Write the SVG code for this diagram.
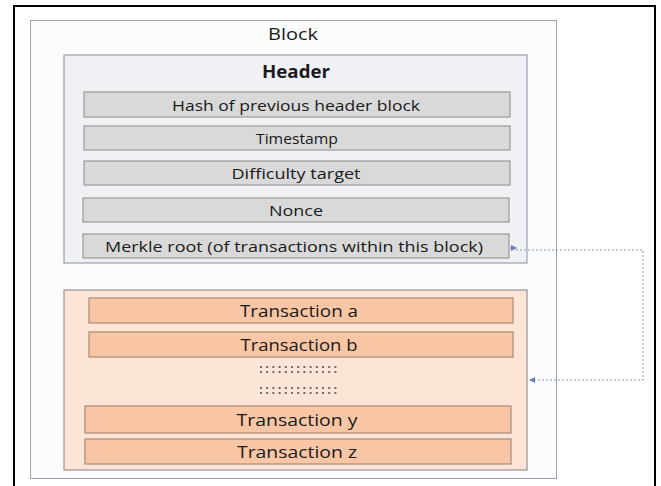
<svg xmlns="http://www.w3.org/2000/svg" width="661" height="486" viewBox="0 0 661 486">
<defs>
<style>
text{font-family:"Open Sans","Liberation Sans",sans-serif;fill:#1a1a1a;text-anchor:middle;dominant-baseline:central;font-weight:400}
text.hd{font-weight:700}
.hrow{fill:#d9d9d9;stroke:#9a9a9a;stroke-width:1.2}
.trow{fill:#f8c6a4;stroke:#a98a78;stroke-width:1.2}
.lbl{font-size:14.5px}
.tlbl{font-size:16.5px}
.dots{stroke:#444;stroke-width:1.6;stroke-dasharray:2 4.2}
</style>
<marker id="ah" viewBox="0 0 6 6" refX="5" refY="3" markerWidth="6" markerHeight="6" orient="auto" markerUnits="userSpaceOnUse">
<path d="M0,0 L6,3 L0,6 z" fill="#6f7fb8"/>
</marker>
</defs>
<rect x="0" y="0" width="661" height="486" fill="#ffffff"/>
<rect x="14" y="6" width="641" height="485" fill="none" stroke="#000" stroke-width="2"/>
<g id="block">
<rect x="30.5" y="20.5" width="526" height="458" fill="#fbfcfe" stroke="#9ba3b0" stroke-width="1"/>
<text x="293" y="34" font-size="16" textLength="50" lengthAdjust="spacingAndGlyphs">Block</text>
</g>
<g id="header">
<rect x="64" y="55" width="463" height="208" fill="#f0f1f5" stroke="#9aa0ad" stroke-width="1.2"/>
<text class="hd" x="296" y="71" font-size="17" textLength="68" lengthAdjust="spacingAndGlyphs">Header</text>
</g>
<g id="hash"><rect class="hrow" x="84" y="92" width="426" height="25"/><text class="lbl" x="296" y="105" textLength="248" lengthAdjust="spacingAndGlyphs">Hash of previous header block</text></g>
<g id="timestamp"><rect class="hrow" x="84" y="126" width="426" height="24"/><text class="lbl" x="297" y="138" textLength="82" lengthAdjust="spacingAndGlyphs">Timestamp</text></g>
<g id="difficulty"><rect class="hrow" x="84" y="161" width="426" height="24"/><text class="lbl" x="296" y="173" textLength="129" lengthAdjust="spacingAndGlyphs">Difficulty target</text></g>
<g id="nonce"><rect class="hrow" x="83" y="198" width="426" height="24"/><text class="lbl" x="296" y="210" textLength="54" lengthAdjust="spacingAndGlyphs">Nonce</text></g>
<g id="merkle"><rect class="hrow" x="83" y="234" width="426" height="24"/><text class="lbl" x="294" y="246" font-size="15.5" textLength="378" lengthAdjust="spacingAndGlyphs">Merkle root (of transactions within this block)</text></g>
<g id="transactions">
<rect x="64" y="290" width="463" height="180" fill="#fce4d6" stroke="#9a928e" stroke-width="1.2"/>
<line class="dots" x1="260" y1="367" x2="340" y2="367"/>
<line class="dots" x1="260" y1="372" x2="340" y2="372"/>
<line class="dots" x1="260" y1="388" x2="340" y2="388"/>
<line class="dots" x1="260" y1="393" x2="340" y2="393"/>
</g>
<g id="txa"><rect class="trow" x="89" y="298" width="424" height="25"/><text class="tlbl" x="299" y="310" textLength="118" lengthAdjust="spacingAndGlyphs">Transaction a</text></g>
<g id="txb"><rect class="trow" x="89" y="332" width="424" height="25"/><text class="tlbl" x="299" y="344" textLength="117" lengthAdjust="spacingAndGlyphs">Transaction b</text></g>
<g id="txy"><rect class="trow" x="85" y="406" width="426" height="27"/><text class="tlbl" x="297" y="419" textLength="121" lengthAdjust="spacingAndGlyphs">Transaction y</text></g>
<g id="txz"><rect class="trow" x="85" y="439" width="426" height="25"/><text class="tlbl" x="297" y="451" textLength="120" lengthAdjust="spacingAndGlyphs">Transaction z</text></g>
<g id="connectors">
<path d="M510,248 L516,248" stroke="#6f7fb8" stroke-width="1" marker-end="url(#ah)" fill="none"/>
<path d="M516,250 L643,250 L643,380 L530,380" fill="none" stroke="#8a98c4" stroke-width="1" stroke-dasharray="2 2" marker-end="url(#ah)"/>
</g>
</svg>
